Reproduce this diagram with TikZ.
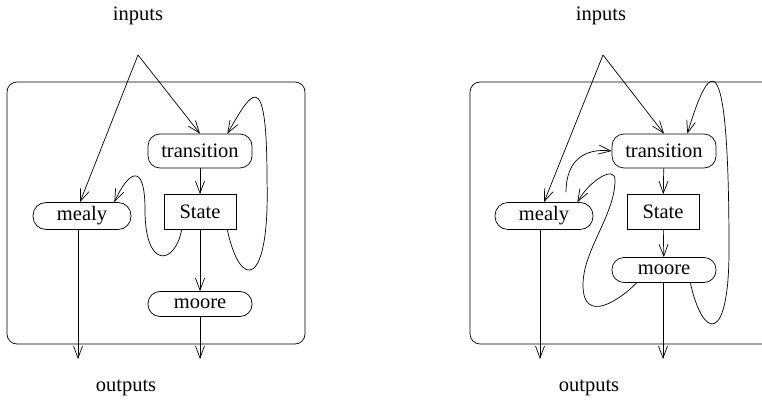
\documentclass[tikz,border=0pt]{standalone}
\usepackage{fontspec}
\setmainfont{Liberation Serif}
\usetikzlibrary{calc, arrows.meta, positioning}

\begin{document}
\begin{tikzpicture}[x=1pt, y=-1pt, line width=0.7pt,
    font=\fontsize{20.5}{24}\selectfont,
    arr/.style={-{Straight Barb[length=12pt,width=9pt]}},
    blk/.style={draw, rounded corners=12pt, minimum width=104pt, minimum height=34pt, inner sep=0pt},
    stbox/.style={draw, minimum width=72pt, minimum height=35pt, inner sep=0pt},
    mly/.style={blk, minimum width=98pt, minimum height=27pt, rounded corners=13pt},
    mre/.style={blk, minimum height=25pt}]
    \useasboundingbox (0,0) rectangle (762,406);

    % left machine
    \draw[rounded corners=10pt] (7,82) rectangle (305,344);
    \node (inA) at (138,16) {inputs};
    \coordinate (forkA) at (138,55);
    \node[blk] (transA) at (200,151) {transition};
    \node[stbox] (stateA) at (200,212) {State};
    \node[mly] (mealyA) at (82,216) {mealy};
    \node[mre] (mooreA) at (200,304) {moore};
    \coordinate (oA1) at (78,359);
    \coordinate (oA2) at (200,359);
    \node (outA) at (126,388) {outputs};

    \draw[arr] (forkA) -- (transA.north);
    \draw[arr] (forkA) -- ([xshift=-2pt]mealyA.north);
    \draw[arr] (transA) -- (stateA);
    \draw[arr] (stateA) -- (mooreA);
    \draw[arr] (mealyA.south -| oA1) -- (oA1);
    \draw[arr] (mooreA) -- (oA2);
    \draw[arr] ([xshift=-9pt]stateA.south east) .. controls (240,290) and (270,290) .. (267,180)
        .. controls (267,60) and (250,95) .. ([xshift=-25pt]transA.north east);
    \draw[arr] ([xshift=18pt]stateA.south west) .. controls (175,265) and (145,270) .. (145,210)
        .. controls (145,160) and (128,172) .. ([xshift=-17pt]mealyA.north east);

    % right machine
    \draw[rounded corners=10pt] (470,82) rectangle (772,344);
    \node (inB) at (601,16) {inputs};
    \coordinate (forkB) at (603,55);
    \node[blk] (transB) at (664,151) {transition};
    \node[stbox] (stateB) at (663,212) {State};
    \node[mly] (mealyB) at (544,216) {mealy};
    \node[mre] (mooreB) at (664,270) {moore};
    \coordinate (oB1) at (540,359);
    \coordinate (oB2) at (663,359);
    \node (outB) at (589,388) {outputs};

    \draw[arr] (forkB) -- (transB.north);
    \draw[arr] (forkB) -- (mealyB.north);
    \draw[arr] (transB) -- (stateB);
    \draw[arr] (stateB) -- (mooreB);
    \draw[arr] (mealyB.south -| oB1) -- (oB1);
    \draw[arr] (mooreB.south -| oB2) -- (oB2);
    \draw[arr] ($(mealyB.north)+(22,-10)$) .. controls (566,160) and (585,148) .. (transB.west);
    \draw[arr] ([xshift=-26pt]mooreB.south east) .. controls (703,340) and (729,345) .. (729,250)
        .. controls (729,30) and (708,65) .. ([xshift=-29pt]transB.north east);
    \draw[arr] ([xshift=25pt]mooreB.south west) .. controls (620,300) and (583,325) .. (583,285)
        .. controls (583,250) and (615,215) .. (615,180)
        .. controls (615,165) and (590,180) .. ([xshift=-16pt]mealyB.north east);
\end{tikzpicture}
\end{document}
